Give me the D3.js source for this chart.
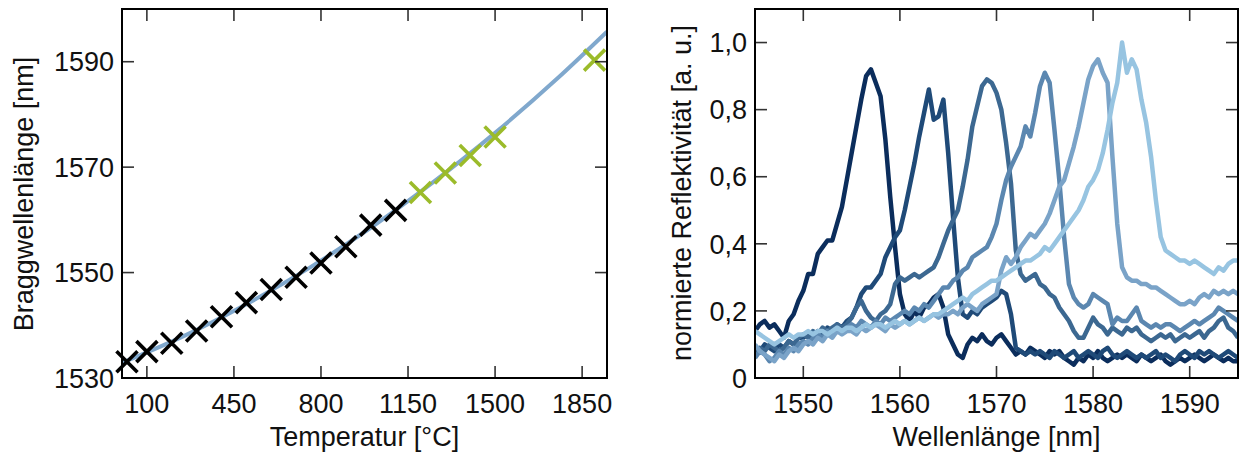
<!DOCTYPE html>
<html>
<head>
<meta charset="utf-8">
<script src="https://cdn.jsdelivr.net/npm/d3@7"></script>
<style>
  body { margin: 0; background: #fff; }
  text { font-family: "Liberation Sans", Arial, Helvetica, sans-serif; fill: #111; }
</style>
</head>
<body>
<div id="chart"></div>
<script>
// Left panel: Bragg wavelength vs. temperature
const tempBlack = [20, 100, 200, 300, 400, 500, 600, 700, 800, 900, 1000, 1100];
const braggBlack = [1533.1, 1535.0, 1536.6, 1538.9, 1541.6, 1544.3, 1546.8, 1549.1, 1551.8, 1554.9, 1559.0, 1561.8];
const tempGreen = [1200, 1300, 1400, 1500, 1900];
const braggGreen = [1565.2, 1568.9, 1572.2, 1575.7, 1590.3];
// fit curve
const fitTemp = [0, 250, 500, 750, 1000, 1250, 1500, 1750, 1950];
const fitBragg = [1532.9, 1538.0, 1544.0, 1550.8, 1558.5, 1567.1, 1576.5, 1586.8, 1595.7];
const tempTicks = [100, 450, 800, 1150, 1500, 1850];
const braggTicks = [1530, 1550, 1570, 1590];

// Right panel: normalised reflection spectra (0.5 nm steps, 1545 ... 1595 nm)
const wavelengths = d3.range(101).map(i => 1545 + i * 0.5);
const spec1 = [
  0.14,0.16,0.17,0.15,0.16,0.14,0.12,0.17,0.19,0.23,
  0.26,0.31,0.31,0.37,0.39,0.41,0.41,0.46,0.51,0.59,
  0.67,0.75,0.83,0.90,0.92,0.88,0.84,0.71,0.54,0.39,
  0.25,0.19,0.17,0.20,0.18,0.21,0.22,0.24,0.25,0.21,
  0.13,0.10,0.07,0.06,0.10,0.12,0.11,0.13,0.11,0.10,
  0.12,0.13,0.11,0.09,0.07,0.08,0.07,0.09,0.08,0.07,
  0.06,0.08,0.07,0.08,0.06,0.05,0.04,0.06,0.05,0.07,
  0.06,0.08,0.06,0.05,0.06,0.07,0.06,0.07,0.06,0.05,
  0.07,0.06,0.05,0.06,0.07,0.05,0.04,0.05,0.06,0.05,
  0.06,0.07,0.06,0.05,0.06,0.07,0.06,0.05,0.06,0.05,
  0.05];
const spec2 = [
  0.09,0.08,0.10,0.09,0.08,0.10,0.09,0.11,0.10,0.12,
  0.12,0.13,0.12,0.14,0.13,0.15,0.14,0.16,0.15,0.17,
  0.18,0.21,0.25,0.27,0.27,0.29,0.31,0.36,0.39,0.42,
  0.44,0.50,0.57,0.64,0.72,0.79,0.86,0.77,0.78,0.83,
  0.67,0.48,0.30,0.19,0.18,0.20,0.19,0.21,0.22,0.23,
  0.24,0.26,0.25,0.19,0.09,0.08,0.07,0.08,0.07,0.08,
  0.07,0.06,0.08,0.07,0.06,0.07,0.08,0.06,0.07,0.08,
  0.07,0.06,0.08,0.09,0.07,0.06,0.07,0.08,0.07,0.06,
  0.07,0.06,0.07,0.08,0.06,0.07,0.06,0.05,0.07,0.08,
  0.07,0.06,0.08,0.07,0.08,0.07,0.06,0.07,0.08,0.07,
  0.06];
const spec3 = [
  0.07,0.09,0.08,0.10,0.09,0.08,0.09,0.11,0.10,0.12,
  0.13,0.12,0.14,0.13,0.15,0.14,0.15,0.16,0.15,0.16,
  0.18,0.21,0.23,0.20,0.18,0.17,0.19,0.20,0.22,0.28,
  0.30,0.29,0.30,0.31,0.30,0.31,0.32,0.33,0.36,0.40,
  0.44,0.47,0.50,0.57,0.65,0.75,0.81,0.87,0.89,0.88,
  0.85,0.80,0.70,0.58,0.38,0.31,0.29,0.30,0.31,0.28,
  0.27,0.25,0.24,0.21,0.19,0.17,0.14,0.12,0.12,0.15,
  0.18,0.16,0.15,0.13,0.15,0.14,0.13,0.15,0.14,0.15,
  0.13,0.12,0.11,0.12,0.13,0.12,0.13,0.11,0.12,0.13,
  0.12,0.13,0.14,0.12,0.14,0.15,0.17,0.18,0.15,0.14,
  0.12];
const spec4 = [
  0.06,0.08,0.07,0.05,0.06,0.08,0.07,0.09,0.08,0.10,
  0.11,0.10,0.12,0.13,0.12,0.14,0.13,0.15,0.14,0.15,
  0.16,0.15,0.17,0.16,0.15,0.17,0.16,0.18,0.17,0.18,
  0.19,0.20,0.19,0.21,0.20,0.22,0.21,0.23,0.25,0.27,
  0.27,0.29,0.30,0.32,0.33,0.36,0.37,0.38,0.39,0.42,
  0.46,0.53,0.59,0.63,0.66,0.69,0.75,0.72,0.79,0.87,
  0.91,0.88,0.74,0.59,0.42,0.28,0.24,0.22,0.21,0.22,
  0.25,0.24,0.23,0.22,0.16,0.18,0.17,0.17,0.19,0.21,
  0.17,0.16,0.15,0.16,0.15,0.16,0.16,0.15,0.14,0.15,
  0.16,0.17,0.16,0.17,0.18,0.19,0.21,0.20,0.19,0.18,
  0.17];
const spec5 = [
  0.10,0.08,0.07,0.06,0.05,0.07,0.06,0.08,0.09,0.08,
  0.10,0.11,0.10,0.12,0.11,0.13,0.12,0.14,0.13,0.14,
  0.14,0.13,0.15,0.14,0.15,0.16,0.15,0.14,0.16,0.15,
  0.16,0.17,0.16,0.17,0.18,0.17,0.18,0.19,0.18,0.19,
  0.19,0.20,0.19,0.21,0.22,0.21,0.20,0.22,0.23,0.24,
  0.25,0.32,0.36,0.34,0.36,0.39,0.41,0.43,0.42,0.44,
  0.46,0.49,0.53,0.57,0.59,0.64,0.69,0.75,0.82,0.89,
  0.93,0.95,0.91,0.88,0.66,0.46,0.33,0.30,0.29,0.29,
  0.28,0.28,0.27,0.27,0.26,0.25,0.24,0.23,0.22,0.22,
  0.23,0.22,0.24,0.25,0.24,0.26,0.25,0.26,0.25,0.26,
  0.25];
const spec6 = [
  0.14,0.13,0.12,0.11,0.10,0.11,0.12,0.13,0.12,0.13,
  0.13,0.14,0.13,0.14,0.14,0.13,0.14,0.15,0.14,0.15,
  0.15,0.14,0.15,0.16,0.15,0.16,0.16,0.15,0.16,0.17,
  0.16,0.17,0.16,0.17,0.18,0.17,0.18,0.19,0.19,0.20,
  0.21,0.22,0.23,0.24,0.23,0.25,0.26,0.27,0.28,0.29,
  0.29,0.30,0.31,0.32,0.33,0.34,0.35,0.35,0.36,0.37,
  0.39,0.38,0.40,0.42,0.44,0.46,0.48,0.50,0.53,0.57,
  0.59,0.62,0.67,0.74,0.82,0.88,1.00,0.91,0.95,0.92,
  0.83,0.76,0.66,0.53,0.42,0.38,0.37,0.36,0.35,0.35,
  0.34,0.35,0.34,0.33,0.32,0.31,0.33,0.32,0.34,0.35,
  0.35];
const spectra = [spec1, spec2, spec3, spec4, spec5, spec6];
const specColors = ["#0b2d5c", "#1f4a78", "#3c6891", "#5b87b0", "#7aa3c8", "#97c4e1"];
const wlTicks = [1550, 1560, 1570, 1580, 1590];
const reflTicks = [0, 0.2, 0.4, 0.6, 0.8, 1.0];

const W = 1245, H = 453;
const tickLen = 12;
const fontSize = 27;

const svg = d3.select("#chart").append("svg")
  .attr("width", W)
  .attr("height", H)
  .style("display", "block");

// draws frame with inward ticks on all four sides
function drawFrame(g, x, y, xTicks, yTicks, xFmt, yFmt) {
  const [x0, x1] = x.range();
  const [y0, y1] = y.range(); // y0 bottom, y1 top

  const ticks = g.append("g").attr("stroke", "#333").attr("stroke-width", 1.6);
  xTicks.forEach(t => {
    ticks.append("line").attr("x1", x(t)).attr("x2", x(t)).attr("y1", y0).attr("y2", y0 - tickLen);
    ticks.append("line").attr("x1", x(t)).attr("x2", x(t)).attr("y1", y1).attr("y2", y1 + tickLen);
  });
  yTicks.forEach(t => {
    ticks.append("line").attr("x1", x0).attr("x2", x0 + tickLen).attr("y1", y(t)).attr("y2", y(t));
    ticks.append("line").attr("x1", x1).attr("x2", x1 - tickLen).attr("y1", y(t)).attr("y2", y(t));
  });

  g.append("rect")
    .attr("x", x0).attr("y", y1)
    .attr("width", x1 - x0).attr("height", y0 - y1)
    .attr("fill", "none").attr("stroke", "#000").attr("stroke-width", 2);

  g.selectAll(".xlab").data(xTicks).enter().append("text")
    .attr("x", d => x(d))
    .attr("y", y0 + 35)
    .attr("text-anchor", "middle")
    .style("font-size", fontSize + "px")
    .text(xFmt);

  g.selectAll(".ylab").data(yTicks).enter().append("text")
    .attr("x", x0 - 8)
    .attr("y", d => y(d))
    .attr("dy", "0.36em")
    .attr("text-anchor", "end")
    .style("font-size", fontSize + "px")
    .text(yFmt);
}

// ---- left panel ----
const xT = d3.scaleLinear().domain([0, 1950]).range([122, 607]);
const yB = d3.scaleLinear().domain([1530, 1600]).range([378, 9]);
const left = svg.append("g");

left.append("clipPath").attr("id", "clipL")
  .append("rect").attr("x", 122).attr("y", 9).attr("width", 485).attr("height", 369);

const fitLine = d3.line()
  .x((d, i) => xT(fitTemp[i]))
  .y(d => yB(d))
  .curve(d3.curveMonotoneX);

left.append("path")
  .datum(fitBragg)
  .attr("clip-path", "url(#clipL)")
  .attr("d", fitLine)
  .attr("fill", "none")
  .attr("stroke", "#80a8cd")
  .attr("stroke-width", 4);

const cross = "M-10.5,-10.5L10.5,10.5M-10.5,10.5L10.5,-10.5";

left.append("g").selectAll("path").data(braggBlack).enter().append("path")
  .attr("transform", (d, i) => "translate(" + xT(tempBlack[i]) + "," + yB(d) + ")")
  .attr("d", cross)
  .attr("stroke", "#000")
  .attr("stroke-width", 3.6)
  .attr("fill", "none");

left.append("g").selectAll("path").data(braggGreen).enter().append("path")
  .attr("transform", (d, i) => "translate(" + xT(tempGreen[i]) + "," + yB(d) + ")")
  .attr("d", cross)
  .attr("stroke", "#9bbb2a")
  .attr("stroke-width", 3.6)
  .attr("fill", "none");

drawFrame(left, xT, yB, tempTicks, braggTicks, d => d, d => d);

left.append("text")
  .attr("x", xT.range()[0] / 2 + xT.range()[1] / 2)
  .attr("y", 446)
  .attr("text-anchor", "middle")
  .style("font-size", fontSize + "px")
  .text("Temperatur [°C]");

left.append("text")
  .attr("transform", "translate(33,194) rotate(-90)")
  .attr("text-anchor", "middle")
  .style("font-size", fontSize + "px")
  .text("Braggwellenlänge [nm]");

// ---- right panel ----
const xW = d3.scaleLinear().domain([1545, 1595]).range([755, 1238]);
const yR = d3.scaleLinear().domain([0, 1.1]).range([378, 9]);
const right = svg.append("g");

right.append("clipPath").attr("id", "clipR")
  .append("rect").attr("x", 755).attr("y", 9).attr("width", 483).attr("height", 369);

const specLine = d3.line()
  .x((d, i) => xW(wavelengths[i]))
  .y(d => yR(d));

right.append("g").attr("clip-path", "url(#clipR)")
  .selectAll("path").data(spectra).enter().append("path")
  .attr("d", specLine)
  .attr("fill", "none")
  .attr("stroke", (d, i) => specColors[i])
  .attr("stroke-width", 4.5)
  .attr("stroke-linejoin", "round");

drawFrame(right, xW, yR, wlTicks, reflTicks, d => d,
  d => d === 0 ? "0" : d3.format(".1f")(d).replace(".", ","));

right.append("text")
  .attr("x", (755 + 1238) / 2)
  .attr("y", 446)
  .attr("text-anchor", "middle")
  .style("font-size", fontSize + "px")
  .text("Wellenlänge [nm]");

right.append("text")
  .attr("transform", "translate(691,193) rotate(-90)")
  .attr("text-anchor", "middle")
  .style("font-size", fontSize + "px")
  .text("normierte Reflektivität [a. u.]");
</script>
</body>
</html>
